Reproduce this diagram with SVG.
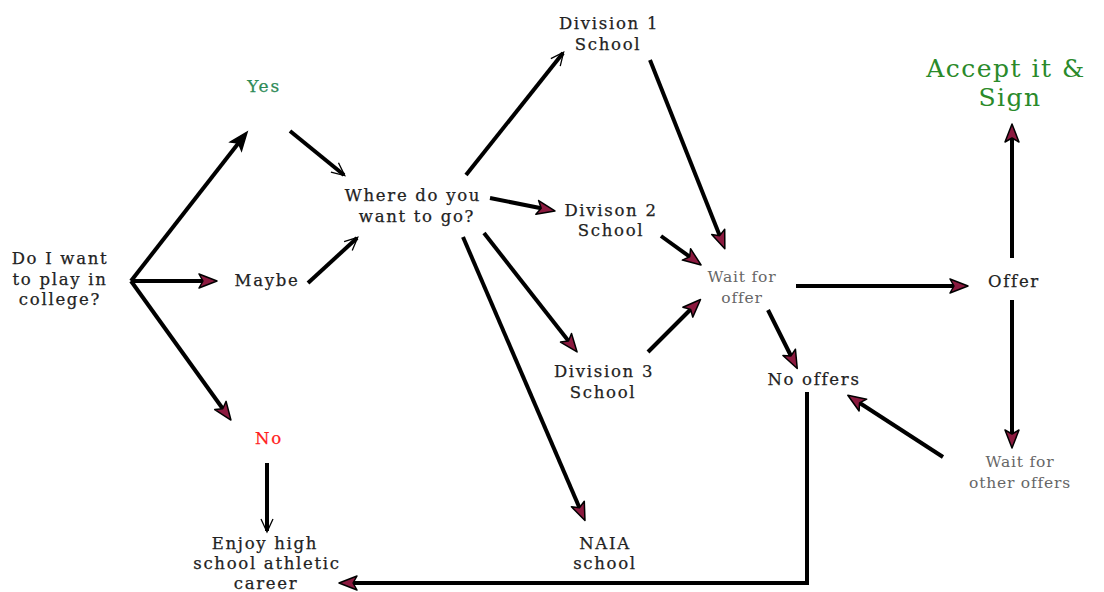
<svg xmlns="http://www.w3.org/2000/svg" width="1104" height="592" viewBox="0 0 1104 592">
<style>
text{font-family:"DejaVu Serif","Liberation Serif",serif;font-size:16.5px;fill:#222;stroke:#222;stroke-width:0.25;text-anchor:middle;letter-spacing:1.7px}
.g{fill:#2e8b57;stroke:#2e8b57;font-size:17px}
.r{fill:#ff2020;stroke:#ff2020}
.gy{fill:#666;stroke:none;font-size:15.5px;letter-spacing:0.8px}
.big{font-size:25px;fill:#2a8a2a;stroke:none;letter-spacing:1.5px}
.c{stroke:#000;stroke-width:4;fill:none;stroke-linecap:butt}
</style>
<defs>
<marker id="m" markerUnits="userSpaceOnUse" markerWidth="22" markerHeight="18" refX="14" refY="8" orient="auto" overflow="visible">
<path d="M1,1 L19,8 L1,15 L5,8 z" fill="#8b1a3f" stroke="#000" stroke-width="1.5" stroke-linejoin="round"/>
</marker>
<marker id="b" markerUnits="userSpaceOnUse" markerWidth="22" markerHeight="18" refX="14" refY="8" orient="auto" overflow="visible">
<path d="M1,1 L19,8 L1,15 L5,8 z" fill="#000" stroke="#000" stroke-width="1.5"/>
</marker>
<marker id="v" markerUnits="userSpaceOnUse" markerWidth="16" markerHeight="14" refX="13" refY="6" orient="auto" overflow="visible">
<path d="M1,0 L14,6 L1,12" fill="none" stroke="#000" stroke-width="1.3"/>
</marker>
</defs>
<g id="connectors">
<line class="c" x1="131" y1="281" x2="244" y2="136" marker-end="url(#b)"/>
<line class="c" x1="131" y1="281" x2="212" y2="281" marker-end="url(#m)"/>
<line class="c" x1="131" y1="281" x2="228" y2="416" marker-end="url(#m)"/>
<line class="c" x1="267" y1="463" x2="267" y2="531" stroke-width="3" marker-end="url(#v)"/>
<line class="c" x1="290" y1="131" x2="344" y2="175" marker-end="url(#v)"/>
<line class="c" x1="308" y1="283" x2="357" y2="238" marker-end="url(#v)"/>
<line class="c" x1="466" y1="175" x2="563" y2="53" marker-end="url(#v)"/>
<line class="c" x1="490" y1="198" x2="550" y2="210" marker-end="url(#m)"/>
<line class="c" x1="484" y1="233" x2="574" y2="348" marker-end="url(#m)"/>
<line class="c" x1="463" y1="237" x2="583" y2="516" marker-end="url(#m)"/>
<line class="c" x1="650" y1="60" x2="723" y2="244" marker-end="url(#m)"/>
<line class="c" x1="661" y1="236" x2="697" y2="262" marker-end="url(#m)"/>
<line class="c" x1="648" y1="352" x2="697" y2="303" marker-end="url(#m)"/>
<line class="c" x1="796" y1="286" x2="963" y2="286" marker-end="url(#m)"/>
<line class="c" x1="1012" y1="258" x2="1012" y2="129" marker-end="url(#m)"/>
<line class="c" x1="1012" y1="300" x2="1012" y2="443" marker-end="url(#m)"/>
<line class="c" x1="943" y1="457" x2="852" y2="398" marker-end="url(#m)"/>
<line class="c" x1="768" y1="310" x2="795" y2="364" marker-end="url(#m)"/>
<polyline class="c" points="807,392 807,583 344,583" marker-end="url(#m)"/>
</g>
<g id="start"><text x="60" y="264">Do I want</text><text x="60" y="285">to play in</text><text x="60" y="305">college?</text></g>
<g id="yes"><text class="g" x="264" y="92">Yes</text></g>
<g id="maybe"><text x="267" y="286">Maybe</text></g>
<g id="no"><text class="r" x="269" y="444">No</text></g>
<g id="enjoy"><text x="265" y="549">Enjoy high</text><text x="267" y="569">school athletic</text><text x="266" y="589">career</text></g>
<g id="where"><text x="413" y="201">Where do you</text><text x="417" y="222">want to go?</text></g>
<g id="div1"><text x="609" y="29">Division 1</text><text x="608" y="50">School</text></g>
<g id="div2"><text x="611" y="216">Divison 2</text><text x="611" y="236">School</text></g>
<g id="div3"><text x="604" y="377">Division 3</text><text x="603" y="398">School</text></g>
<g id="naia"><text x="605" y="549">NAIA</text><text x="605" y="569">school</text></g>
<g id="wait"><text class="gy" x="742" y="282">Wait for</text><text class="gy" x="742" y="303">offer</text></g>
<g id="offer"><text x="1014" y="287">Offer</text></g>
<g id="accept"><text class="big" x="1006" y="77">Accept it &amp;</text><text class="big" x="1010" y="106">Sign</text></g>
<g id="waitother"><text class="gy" x="1020" y="467">Wait for</text><text class="gy" x="1020" y="488">other offers</text></g>
<g id="nooffers"><text x="814" y="385">No offers</text></g>
</svg>
